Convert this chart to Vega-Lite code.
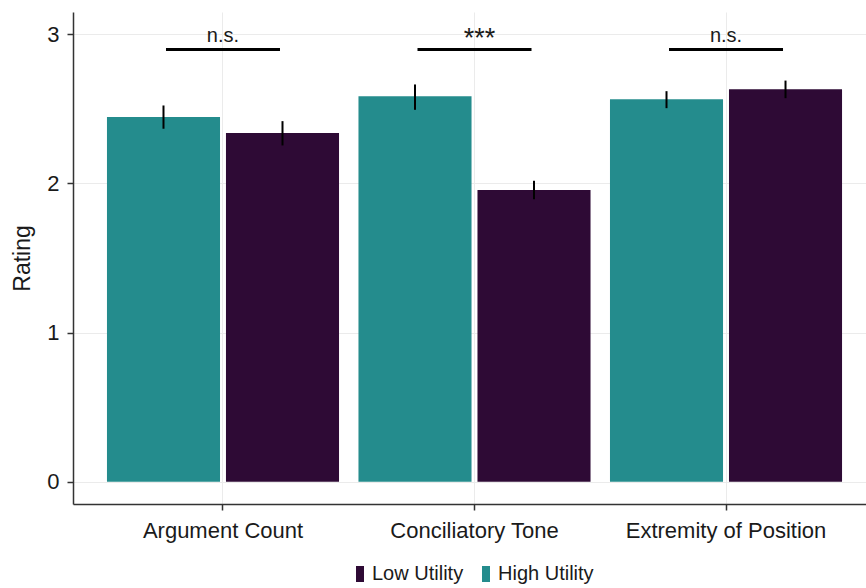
{
  "$schema": "https://vega.github.io/schema/vega-lite/v6.json",
  "width": 793,
  "height": 492,
  "autosize": {"type": "none"},
  "padding": {"left": 73, "top": 12, "right": 0, "bottom": 84},
  "config": {
    "view": {"stroke": null},
    "font": "Liberation Sans, sans-serif",
    "axis": {
      "domainColor": "#333333",
      "domainWidth": 1.5,
      "tickColor": "#333333",
      "tickWidth": 1.5,
      "tickSize": 6,
      "gridColor": "#ebebeb",
      "gridWidth": 1,
      "labelColor": "#1a1a1a",
      "titleColor": "#1a1a1a",
      "titleFontWeight": "normal",
      "labelLimit": 0
    }
  },
  "datasets": {
    "bars": [
      {"category": "Argument Count", "group": "High Utility", "mean": 2.445, "lo": 2.367, "hi": 2.523},
      {"category": "Argument Count", "group": "Low Utility", "mean": 2.338, "lo": 2.255, "hi": 2.418},
      {"category": "Conciliatory Tone", "group": "High Utility", "mean": 2.585, "lo": 2.494, "hi": 2.664},
      {"category": "Conciliatory Tone", "group": "Low Utility", "mean": 1.956, "lo": 1.894, "hi": 2.018},
      {"category": "Extremity of Position", "group": "High Utility", "mean": 2.565, "lo": 2.505, "hi": 2.619},
      {"category": "Extremity of Position", "group": "Low Utility", "mean": 2.632, "lo": 2.572, "hi": 2.69}
    ],
    "sig": [
      {"category": "Argument Count", "line": 2.898, "texty": 2.947, "label": "n.s."},
      {"category": "Conciliatory Tone", "line": 2.898, "texty": 2.947, "label": "***"},
      {"category": "Extremity of Position", "line": 2.898, "texty": 2.947, "label": "n.s."}
    ]
  },
  "layer": [
    {
      "data": {"name": "bars"},
      "mark": {"type": "bar"},
      "encoding": {
        "x": {
          "field": "category", "type": "nominal",
          "sort": ["Argument Count", "Conciliatory Tone", "Extremity of Position"],
          "scale": {"type": "band", "paddingInner": 0, "paddingOuter": 0.0765, "align": 0.63},
          "axis": {"title": null, "labelAngle": 0, "labelFontSize": 22, "labelPadding": 10, "bandPosition": 0.5, "grid": true}
        },
        "xOffset": {
          "field": "group", "type": "nominal",
          "scale": {"domain": ["High Utility", "Low Utility"], "paddingInner": 0.05, "paddingOuter": 0.0817}
        },
        "y": {
          "field": "mean", "type": "quantitative",
          "scale": {"domain": [-0.15, 3.15], "nice": false, "zero": false},
          "axis": {"title": "Rating", "values": [0, 1, 2, 3], "format": "d", "labelFontSize": 22, "labelPadding": 8, "titleFontSize": 23, "titlePadding": 12, "grid": true}
        },
        "color": {
          "field": "group", "type": "nominal",
          "scale": {"domain": ["Low Utility", "High Utility"], "range": ["#2e0a35", "#248c8d"]},
          "legend": {
            "title": null, "orient": "none", "direction": "horizontal",
            "legendX": 277, "legendY": 552,
            "symbolType": "M-0.5,-1H0.5V1H-0.5Z", "symbolSize": 256,
            "symbolStrokeWidth": 0, "symbolOpacity": 1,
            "labelFontSize": 20, "labelColor": "#1a1a1a", "labelOffset": 2, "columnPadding": 12
          }
        }
      }
    },
    {
      "data": {"name": "bars"},
      "mark": {"type": "rule", "color": "black", "strokeWidth": 2},
      "encoding": {
        "x": {"field": "category", "type": "nominal", "sort": ["Argument Count", "Conciliatory Tone", "Extremity of Position"]},
        "xOffset": {"field": "group", "type": "nominal"},
        "y": {"field": "lo", "type": "quantitative"},
        "y2": {"field": "hi"}
      }
    },
    {
      "data": {"name": "sig"},
      "mark": {"type": "tick", "orient": "horizontal", "color": "black", "thickness": 3, "opacity": 1},
      "encoding": {
        "x": {"field": "category", "type": "nominal", "sort": ["Argument Count", "Conciliatory Tone", "Extremity of Position"]},
        "y": {"field": "line", "type": "quantitative"},
        "size": {"value": 114}
      }
    },
    {
      "data": {"name": "sig"},
      "transform": [{"filter": "datum.label !== '***'"}],
      "mark": {"type": "text", "fontSize": 20, "baseline": "alphabetic", "align": "center", "color": "#1a1a1a"},
      "encoding": {
        "x": {"field": "category", "type": "nominal", "sort": ["Argument Count", "Conciliatory Tone", "Extremity of Position"]},
        "y": {"field": "texty", "type": "quantitative"},
        "text": {"field": "label"}
      }
    },
    {
      "data": {"name": "sig"},
      "transform": [{"filter": "datum.label === '***'"}],
      "mark": {"type": "text", "fontSize": 27, "baseline": "alphabetic", "align": "center", "dx": 5, "dy": 5, "color": "#1a1a1a"},
      "encoding": {
        "x": {"field": "category", "type": "nominal", "sort": ["Argument Count", "Conciliatory Tone", "Extremity of Position"]},
        "y": {"field": "texty", "type": "quantitative"},
        "text": {"field": "label"}
      }
    }
  ]
}
